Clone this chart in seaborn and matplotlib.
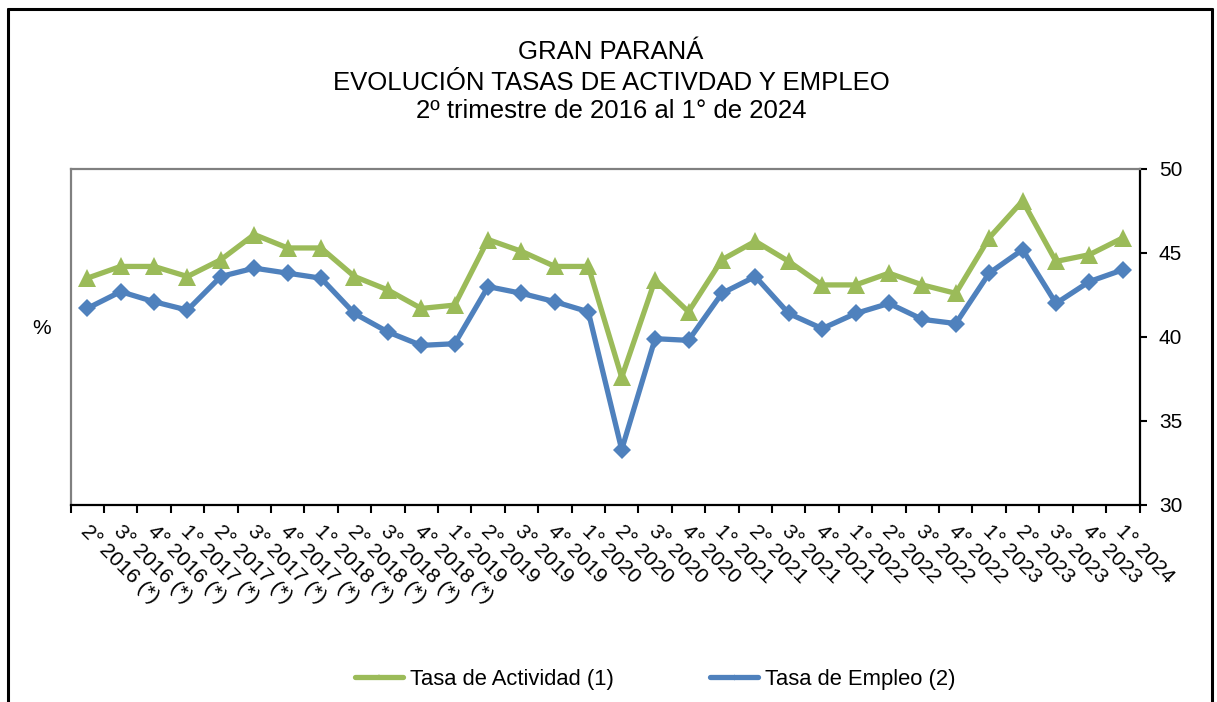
import numpy as np
import pandas as pd
import matplotlib
matplotlib.use("Agg")
import matplotlib.pyplot as plt
import seaborn as sns
from matplotlib.lines import Line2D
import matplotlib.transforms as mtransforms

# ---------------- data ----------------
trimestres = ["2°", "3°", "4°",
              "1°", "2°", "3°", "4°",
              "1°", "2°", "3°", "4°",
              "1°", "2°", "3°", "4°",
              "1°", "2°", "3°", "4°",
              "1°", "2°", "3°", "4°",
              "1°", "2°", "3°", "4°",
              "1°", "2°", "3°", "4°",
              "1°"]
anios = ["2016", "2016", "2016",
         "2017", "2017", "2017", "2017",
         "2018", "2018", "2018", "2018",
         "2019", "2019", "2019", "2019",
         "2020", "2020", "2020", "2020",
         "2021", "2021", "2021", "2021",
         "2022", "2022", "2022", "2022",
         "2023", "2023", "2023", "2023",
         "2024"]
con_asterisco = [True] * 11 + [False] * 21

tasa_actividad = [43.5, 44.2, 44.2, 43.6, 44.6, 46.1, 45.3, 45.3, 43.6, 42.8, 41.7, 41.9,
                  45.8, 45.1, 44.2, 44.2, 37.6, 43.4, 41.5, 44.6, 45.7, 44.5, 43.1, 43.1,
                  43.8, 43.1, 42.6, 45.9, 48.1, 44.5, 44.9, 45.9]
tasa_empleo = [41.7, 42.7, 42.1, 41.6, 43.6, 44.1, 43.8, 43.5, 41.4, 40.3, 39.5, 39.6,
               43.0, 42.6, 42.1, 41.5, 33.3, 39.9, 39.8, 42.6, 43.6, 41.4, 40.5, 41.4,
               42.0, 41.05, 40.8, 43.8, 45.2, 42.0, 43.3, 44.0]

serie_act = "Tasa de Actividad (1)"
serie_emp = "Tasa de Empleo (2)"
verde = "#9BBB59"
azul = "#4F81BD"

labels = [f"{t} {a}" + (" (*)" if s else "") for t, a, s in zip(trimestres, anios, con_asterisco)]

df = pd.DataFrame({"pos": np.arange(len(trimestres)),
                   "act": tasa_actividad, "emp": tasa_empleo})

# ---------------- style ----------------
sns.set_theme(style="white")
plt.rcParams["font.family"] = ["Liberation Sans", "DejaVu Sans"]
plt.rcParams["text.color"] = "black"
plt.rcParams["axes.labelcolor"] = "black"
plt.rcParams["xtick.color"] = "black"
plt.rcParams["ytick.color"] = "black"

W, H = 1217, 702
fig = plt.figure(figsize=(W / 100, H / 100), dpi=100)
ax = fig.add_axes([70.5 / W, 1 - 505 / H, (1139.5 - 70.5) / W, (505 - 169) / H])

sns.lineplot(data=df, x="pos", y="act", ax=ax, color=verde, lw=3.8,
             marker="^", markersize=13, markeredgewidth=0, markerfacecolor=verde,
             sort=False, zorder=3)
sns.lineplot(data=df, x="pos", y="emp", ax=ax, color=azul, lw=3.8,
             marker="D", markersize=9, markeredgewidth=0, markerfacecolor=azul,
             sort=False, zorder=4)

ax.set_xlim(-0.5, len(trimestres) - 0.5)
ax.set_ylim(30, 50)
ax.set_yticks([30, 35, 40, 45, 50])
ax.yaxis.tick_right()
ax.set_xlabel("")
ax.set_ylabel("")

# spines
for s in ["top", "left"]:
    ax.spines[s].set_color("#808080")
    ax.spines[s].set_linewidth(1.6)
for s in ["right", "bottom"]:
    ax.spines[s].set_color("black")
    ax.spines[s].set_linewidth(1.6)
    ax.spines[s].set_visible(True)

ax.tick_params(axis="y", which="major", right=True, left=False, direction="out",
               length=5, width=1.5, color="black", labelsize=15, pad=9, labelcolor="black")

# x: boundary ticks (minor), labels at centers (major)
ax.set_xticks(np.arange(-0.5, len(trimestres), 1.0), minor=True)
ax.set_xticks(np.arange(len(trimestres)))
ax.set_xticklabels(labels, rotation=-45, ha="left", va="top", rotation_mode="anchor")
ax.tick_params(axis="x", which="minor", bottom=True, direction="out", length=6,
               width=1.5, color="black")
ax.tick_params(axis="x", which="major", bottom=True, length=0, labelsize=15.3,
               pad=12, labelcolor="black")
offset = mtransforms.ScaledTranslation(3 / 100, 0, fig.dpi_scale_trans)
for lab in ax.get_xticklabels():
    lab.set_transform(lab.get_transform() + offset)
ax.grid(False)

# legend
handles = [Line2D([0], [0], color=verde, lw=3.8, marker="^", markersize=4, markeredgewidth=0),
           Line2D([0], [0], color=azul, lw=3.8, marker="D", markersize=3, markeredgewidth=0)]
fig.legend(handles, [serie_act, serie_emp], loc="center", bbox_to_anchor=(655 / W, 1 - 679 / H),
           ncol=2, frameon=False, fontsize=15.8, handlelength=2.2, handletextpad=0.3,
           columnspacing=4.4, labelcolor="black")

# titles
fig.text(611 / W, 1 - 59 / H, "GRAN PARANÁ", ha="center", va="baseline", fontsize=18.5,
         color="black")
fig.text(611 / W, 1 - 90 / H, "EVOLUCIÓN TASAS DE ACTIVDAD Y EMPLEO", ha="center",
         va="baseline", fontsize=18.5, color="black")
fig.text(611 / W, 1 - 118 / H, "2º trimestre de 2016 al 1° de 2024", ha="center",
         va="baseline", fontsize=18.5, color="black")

fig.text(42 / W, 1 - 328 / H, "%", ha="center", va="center", fontsize=15, color="black")

# outer border
lw_b = 2.2
fig.add_artist(Line2D([7.5 / W, 7.5 / W], [0, 1 - 8.5 / H], transform=fig.transFigure,
                      color="black", lw=lw_b))
fig.add_artist(Line2D([7.5 / W, 1211.5 / W], [1 - 8.5 / H, 1 - 8.5 / H],
                      transform=fig.transFigure, color="black", lw=lw_b))
fig.add_artist(Line2D([1211.5 / W, 1211.5 / W], [0, 1 - 8.5 / H], transform=fig.transFigure,
                      color="black", lw=lw_b))

fig.savefig("out.png", dpi=100)
